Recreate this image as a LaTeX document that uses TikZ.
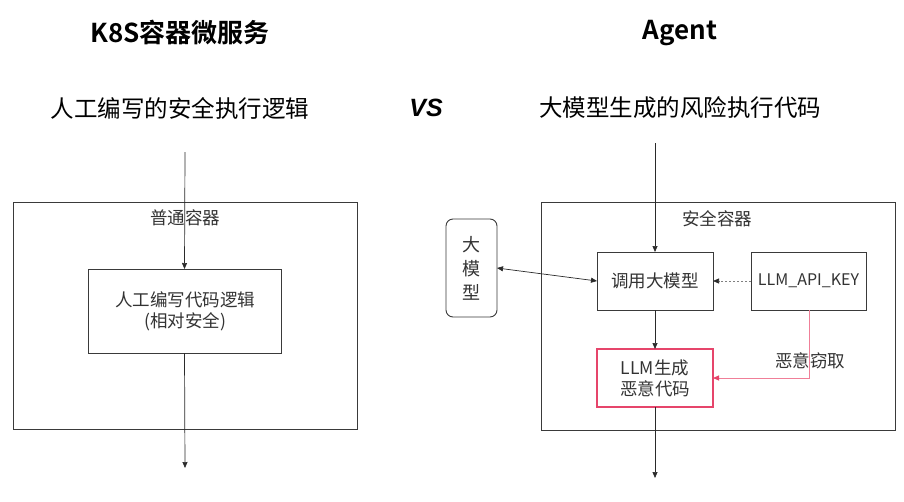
\documentclass[tikz,border=0pt]{standalone}
\usepackage{fontspec}
\setmainfont{Noto Sans CJK SC}
\newfontfamily\titlefont{Noto Sans CJK SC Bold}
\newfontfamily\vsfont{Liberation Sans}
\usetikzlibrary{arrows.meta}
\definecolor{linegray}{HTML}{2A2A2A}
\definecolor{boxgray}{HTML}{3A3A3A}
\definecolor{txtgray}{HTML}{333333}
\definecolor{agentred}{HTML}{E6456B}
\definecolor{pinkline}{HTML}{F07F98}
\begin{document}
\begin{tikzpicture}[x=1pt,y=-1pt,
  every node/.style={inner sep=0pt,outer sep=0pt,text=txtgray},
  plainbox/.style={draw=boxgray,line width=0.9pt},
  redframe/.style={draw=agentred,line width=1.4pt},
  boxlabel/.style={font=\fontsize{17.5}{21}\selectfont,align=center},
  titletxt/.style={font=\titlefont\fontsize{26}{30}\selectfont,text=black},
  subtxt/.style={font=\fontsize{23.5}{27}\selectfont,text=black},
  arr/.style={draw=linegray,line width=0.7pt,-{Triangle[width=5pt,length=6pt]}},
  dblarr/.style={draw=linegray,line width=0.7pt,{Triangle[width=5pt,length=6pt]}-{Triangle[width=5pt,length=6pt]}},
  dasharr/.style={draw=gray,line width=0.7pt,dash pattern=on 2pt off 2pt,-{Triangle[width=5pt,length=6pt,color=linegray,fill=linegray]}},
  redarr/.style={draw=pinkline,line width=0.9pt,-{Triangle[width=5pt,length=6pt,color=agentred,fill=agentred]}}
]
\useasboundingbox (0,0) rectangle (904,501);
\fill[white] (0,0) rectangle (904,501);

% titles
\node[titletxt] (t1) at (180,33) {K8S容器微服务};
\node[titletxt] (t2) at (680,33) {Agent};
\node[subtxt] (s1) at (180,108) {人工编写的安全执行逻辑};
\node[font=\vsfont\bfseries\itshape\fontsize{25}{28}\selectfont,text=black] (vs) at (426,108) {VS};
\node[subtxt] (s2) at (680,108) {大模型生成的风险执行代码};

% left side
\draw[plainbox] (13,202) rectangle (357,429);
\node[boxlabel] (lc) at (185,218) {普通容器};
\node[plainbox,minimum width=193pt,minimum height=84pt,anchor=north west] (lb) at (88,269) {};
\node[boxlabel] (lbt) at (185,311) {人工编写代码逻辑\\(相对安全)};
\coordinate (lin) at (185,152);
\coordinate (lout) at (185,468);
\draw[arr] (lin) -- (lb.north);
\draw[arr] (lb.south) -- (lout);

% right side
\draw[plainbox] (541,202) rectangle (895,430);
\node[boxlabel] (rc) at (717,219) {安全容器};
\node[plainbox,minimum width=116pt,minimum height=58pt,anchor=north west,boxlabel] (call) at (597,252) {调用大模型};
\node[plainbox,minimum width=115pt,minimum height=58pt,anchor=north west,boxlabel,font=\fontsize{16}{20}\selectfont] (key) at (751,252) {LLM\_API\_KEY};
\node[redframe,minimum width=116pt,minimum height=58pt,anchor=north west,boxlabel] (gen) at (597,349) {LLM生成\\恶意代码};
\node[plainbox,rounded corners=7pt,minimum width=51pt,minimum height=98pt,anchor=north west] (llm) at (446,219) {};
\node[boxlabel,font=\fontsize{18}{24}\selectfont] (llmt) at (471.5,268) {大\\模\\型};
\node[boxlabel] (steal) at (810,361) {恶意窃取};

\coordinate (rin) at (655,143);
\coordinate (rout) at (655,478);
\coordinate (bend) at (809,378);
\draw[arr] (rin) -- (call.north);
\draw[arr] (call.south) -- (gen.north);
\draw[arr] (gen.south) -- (rout);
\draw[dblarr] (llm.east) -- (call.west);
\draw[dasharr] (key.west) -- (call.east);
\draw[redarr] (key.south -| bend) -- (bend) -- (gen.east |- bend);
\end{tikzpicture}
\end{document}
